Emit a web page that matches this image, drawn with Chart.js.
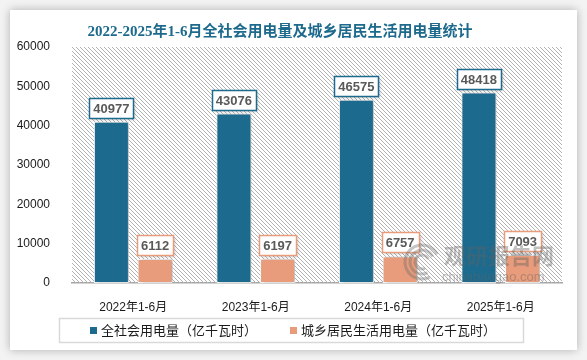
<!DOCTYPE html>
<html>
<head>
<meta charset="utf-8">
<script src="https://cdn.jsdelivr.net/npm/chart.js@4/dist/chart.umd.min.js"></script>
<style>
  html, body { margin: 0; padding: 0; background: #f3f3f3; }
  #wrap { position: relative; width: 587px; height: 360px; overflow: hidden; }
  #card { position: absolute; left: 10px; top: 10px; width: 567px; height: 340px; background: #fff; box-shadow: 0 0 9px rgba(0,0,0,0.28); }
  canvas { position: absolute; left: 0; top: 0; }
</style>
</head>
<body>
<div id="wrap">
  <div id="card"></div>
  <canvas id="chart" width="587" height="360"></canvas>
</div>
<script>
// data
const categories = ['2022年1-6月', '2023年1-6月', '2024年1-6月', '2025年1-6月'];
const totalUse = [40977, 43076, 46575, 48418];
const residentUse = [6112, 6197, 6757, 7093];
const seriesNames = ['全社会用电量（亿千瓦时）', '城乡居民生活用电量（亿千瓦时）'];
const seriesColors = ['#1c6b8f', '#e89c7b'];
const yMin = 0, yMax = 60000, yStep = 10000;
const titleText = '2022-2025年1-6月全社会用电量及城乡居民生活用电量统计';

const CJK = '"Noto Sans CJK SC"';

// diagonal hatch behind the plot, drawn pixel by pixel so it stays crisp
const hatchBg = {
  id: 'hatchBg',
  beforeDatasetsDraw(chart) {
    const { ctx, chartArea: a } = chart;
    const l = Math.round(a.left), t = Math.round(a.top);
    const r = Math.round(a.right), b = Math.round(a.bottom);
    ctx.save();
    ctx.fillStyle = '#b4b4b4';
    for (let y = t; y < b; y++) {
      for (let x = l + ((y - t) % 4); x < r; x += 4) {
        ctx.fillRect(x, y, 1, 1);
      }
    }
    ctx.restore();
  }
};

// soft shadow on the bars
const barShadow = {
  id: 'barShadow',
  beforeDatasetsDraw(chart) {
    const ctx = chart.ctx;
    ctx.save();
    ctx.shadowColor = 'rgba(0,0,0,0.3)';
    ctx.shadowBlur = 4;
    ctx.shadowOffsetX = 2;
    ctx.shadowOffsetY = 0;
  },
  afterDatasetsDraw(chart) {
    chart.ctx.restore();
  }
};

// boxed value labels above each bar
const valueBoxes = {
  id: 'valueBoxes',
  afterDatasetsDraw(chart) {
    const ctx = chart.ctx;
    chart.data.datasets.forEach((ds, i) => {
      const meta = chart.getDatasetMeta(i);
      meta.data.forEach((bar, j) => {
        const txt = String(ds.data[j]);
        ctx.save();
        ctx.font = 'bold 13px "Liberation Sans"';
        const w = Math.round(ctx.measureText(txt).width + 8);
        const h = 20;
        const x = Math.round(bar.x - w / 2) + 0.5;
        const y = Math.round(bar.y - 4 - h) + 0.5;
        ctx.shadowColor = 'rgba(0,0,0,0.25)';
        ctx.shadowBlur = 3;
        ctx.shadowOffsetX = 1;
        ctx.shadowOffsetY = 1;
        ctx.fillStyle = '#fff';
        ctx.fillRect(x, y, w, h);
        ctx.shadowColor = 'transparent';
        ctx.strokeStyle = seriesColors[i];
        ctx.lineWidth = 1.5;
        ctx.strokeRect(x, y, w, h);
        ctx.fillStyle = '#595959';
        ctx.textAlign = 'center';
        ctx.textBaseline = 'middle';
        ctx.fillText(txt, bar.x, y + h / 2 + 1);
        ctx.restore();
      });
    });
  }
};

// title, legend box and watermark
const decorations = {
  id: 'decorations',
  afterDraw(chart) {
    const ctx = chart.ctx;
    ctx.save();

    // title
    ctx.font = 'bold 15px "Liberation Serif", ' + CJK;
    ctx.fillStyle = '#1d6a8d';
    ctx.textAlign = 'center';
    ctx.textBaseline = 'middle';
    ctx.fillText(titleText, 280, 32);

    // watermark
    ctx.globalAlpha = 0.4;
    ctx.strokeStyle = '#707070';
    ctx.lineWidth = 3;
    [7, 12, 17].forEach(r => {
      ctx.beginPath();
      ctx.arc(422, 262, r, 0.35 * Math.PI, 1.85 * Math.PI);
      ctx.stroke();
    });
    ctx.fillStyle = '#626262';
    ctx.textAlign = 'left';
    ctx.font = 'bold 22px ' + CJK;
    ctx.fillText('观研报告网', 444, 256);
    ctx.font = '13px "Liberation Sans"';
    ctx.fillText('chinabaogao.com', 442, 277);
    ctx.globalAlpha = 1;

    // legend
    ctx.strokeStyle = '#d9d9d9';
    ctx.lineWidth = 1.5;
    ctx.strokeRect(59.5, 318.5, 464, 24);
    const items = [{ x: 90, tx: 101 }, { x: 290, tx: 301 }];
    ctx.font = '13px ' + CJK;
    ctx.textBaseline = 'middle';
    items.forEach((it, i) => {
      ctx.fillStyle = seriesColors[i];
      ctx.fillRect(it.x, 327, 7, 7);
      ctx.fillStyle = '#1a1a1a';
      ctx.fillText(chart.data.datasets[i].label, it.tx, 330.5);
    });
    ctx.restore();
  }
};

new Chart(document.getElementById('chart'), {
  type: 'bar',
  data: {
    labels: categories,
    datasets: [
      { label: seriesNames[0], data: totalUse, backgroundColor: seriesColors[0] },
      { label: seriesNames[1], data: residentUse, backgroundColor: seriesColors[1] }
    ]
  },
  options: {
    responsive: false,
    animation: false,
    devicePixelRatio: 1,
    layout: { padding: { left: 10, right: 25, top: 47, bottom: 47 } },
    datasets: {
      bar: {
        categoryPercentage: 0.714,
        barPercentage: 0.8,
        borderColor: '#fff',
        borderWidth: 1,
        borderSkipped: false
      }
    },
    plugins: {
      legend: { display: false },
      title: { display: false },
      tooltip: { enabled: false }
    },
    scales: {
      x: {
        grid: { display: false },
        border: { color: '#a6a6a6', width: 1.5 },
        ticks: { color: '#1a1a1a', padding: 9, font: { family: '"Liberation Sans", ' + CJK, size: 12 } },
        afterFit(s) { s.height = 30; }
      },
      y: {
        min: yMin,
        max: yMax,
        grid: { display: false },
        border: { display: false },
        ticks: {
          stepSize: yStep,
          color: '#1a1a1a',
          padding: 14,
          font: { family: '"Liberation Sans"', size: 12 },
          callback: v => String(v)
        },
        afterFit(s) { s.width = 62; }
      }
    }
  },
  plugins: [hatchBg, barShadow, valueBoxes, decorations]
});
</script>
</body>
</html>
